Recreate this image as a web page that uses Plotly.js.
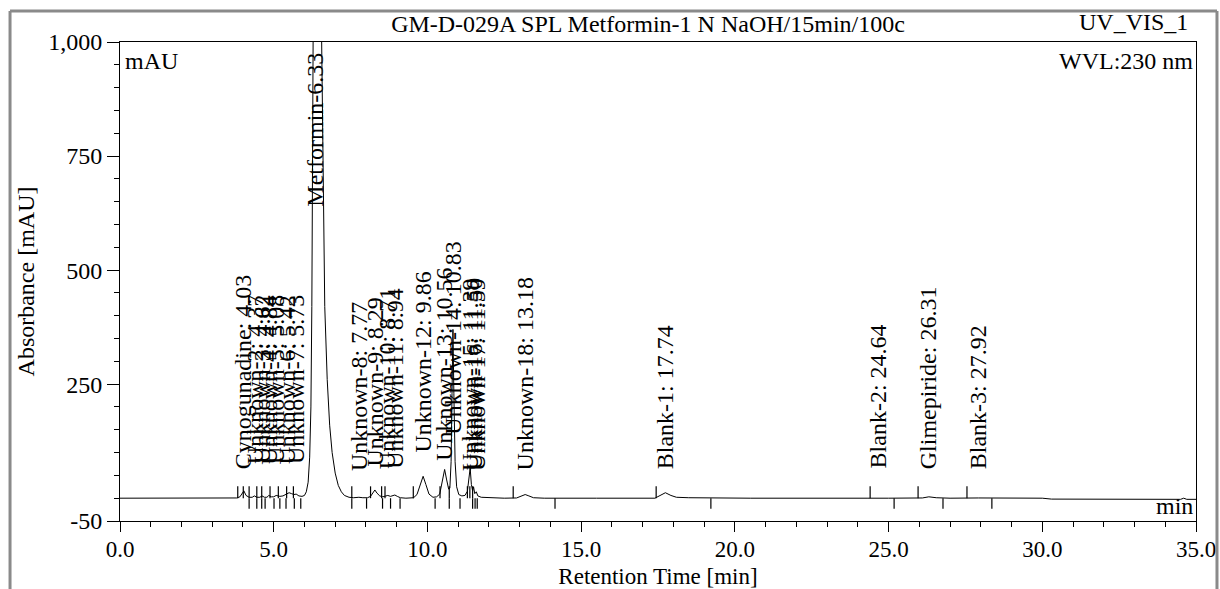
<!DOCTYPE html>
<html>
<head>
<meta charset="utf-8">
<script src="https://cdn.plot.ly/plotly-3.0.1.min.js"></script>
<style>
  html, body { margin: 0; padding: 0; background: #ffffff; }
  #chart { width: 1220px; height: 589px; }
</style>
</head>
<body>
<div id="chart"></div>
<script>
// ---- Chromatogram signal (retention time [min], absorbance [mAU]) ----
const times = [
  0, 2, 3.5, 3.8, 3.9, 3.97, 4.03, 4.1, 4.2, 4.3, 4.37, 4.45, 4.55, 4.62, 4.7, 4.78, 4.84, 4.92,
  5.0, 5.08, 5.2, 5.3, 5.42, 5.5, 5.58, 5.66, 5.73, 5.82, 5.92, 6.0, 6.06, 6.12, 6.17, 6.21,
  6.24, 6.26, 6.28, 6.31, 6.4, 6.5, 6.56, 6.6, 6.66, 6.74, 6.82, 6.9, 7.0, 7.1, 7.2, 7.3, 7.45,
  7.6, 7.77, 7.9, 8.05, 8.15, 8.22, 8.29, 8.36, 8.45, 8.55, 8.63, 8.71, 8.8, 8.88, 8.94, 9.02,
  9.12, 9.3, 9.55, 9.66, 9.76, 9.86, 9.95, 10.05, 10.18, 10.3, 10.4, 10.48, 10.56, 10.62, 10.69,
  10.73, 10.77, 10.8, 10.83, 10.86, 10.9, 10.95, 11.02, 11.12, 11.22, 11.3, 11.35, 11.39, 11.43,
  11.47, 11.5, 11.54, 11.59, 11.64, 11.75, 12.0, 12.5, 12.9, 13.05, 13.18, 13.3, 13.45, 13.8,
  14.5, 15.5, 17.4, 17.55, 17.74, 17.92, 18.1, 18.5, 19.2, 20.5, 24.3, 24.64, 25.0, 26.1, 26.31,
  26.55, 27.0, 27.92, 28.5, 30.0, 30.3, 32.0, 34.5, 34.6, 34.7, 35.0
];
const absorbance = [
  0, 0, 0, 0.5, 3, 11, 16, 6, 2, 2, 5, 2, 2, 5, 2, 2, 6, 3,
  3, 6, 4, 5, 10, 12, 10, 8, 9, 5, 4, 6, 14, 35, 90, 200,
  420, 700, 1000, 1400, 1700, 1450, 1000, 700, 420, 260, 160, 100, 55, 28, 14, 6, 2,
  1, 2, 1, 1, 4, 12, 18, 11, 5, 3, 4, 6, 4, 5, 7, 4,
  1, 0, 1, 8, 30, 48, 30, 9, 2, 3, 9, 38, 63, 42, 20,
  22, 80, 230, 370, 230, 80, 25, 8, 5, 6, 15, 45, 66, 30,
  16, 25, 10, 14, 5, 2, 1, 0, 0.5, 4, 8, 5, 1, 0,
  -0.5, 0, 0, 6, 12, 6, 2, 1, 0.5, 0, 0, 0.5, 0, 0.5, 3,
  1, 0, 0.5, 0, 0, -2, -2.5, -2.5, 0, -2.5, -2.5
];

// ---- Peak identification ----
const peakNames = [
  "Cynogunadine", "Unknown-2", "Unknown-3", "Unknown-4", "Unknown-5", "Unknown-6", "Unknown-7",
  "Metformin", "Unknown-8", "Unknown-9", "Unknown-10", "Unknown-11", "Unknown-12", "Unknown-13",
  "Unknown-14", "Unknown-15", "Unknown-16", "Unknown-17", "Unknown-18", "Blank-1", "Blank-2",
  "Glimepiride", "Blank-3"
];
const peakTimes = [
  4.03, 4.37, 4.62, 4.84, 5.08, 5.42, 5.73,
  6.33, 7.77, 8.29, 8.71, 8.94, 9.86, 10.56,
  10.83, 11.39, 11.50, 11.59, 13.18, 17.74, 24.64,
  26.31, 27.92
];
// peak delimiter times (start marks above baseline, end marks below)
const peakStarts = [3.83, 4.01, 4.2, 4.45, 4.61, 4.88, 5.15, 5.42, 5.64, 7.54, 8.15, 8.51, 8.62,
  9.54, 10.41, 10.71, 11.3, 11.38, 11.47, 12.79, 17.44, 24.4, 25.96, 27.55];
const peakEnds = [4.2, 4.45, 4.61, 4.72, 5.01, 5.2, 5.4, 5.67, 5.88, 7.54, 8.02, 8.54, 8.8, 9.11,
  10.25, 10.71, 11.06, 11.47, 11.55, 11.62, 14.15, 19.22, 25.18, 26.77, 28.36];

// ---- Axis ticks ----
const xTickVals = [0, 5, 10, 15, 20, 25, 30, 35];
const xTickText = ["0.0", "5.0", "10.0", "15.0", "20.0", "25.0", "30.0", "35.0"];
const yTickVals = [-50, 250, 500, 750, 1000];
const yTickText = ["-50", "250", "500", "750", "1,000"];

// ---- layout-only settings (label placement, mark lengths) ----
const labelBottom = [62, 72, 72, 72, 72, 72, 72, 636, 58, 68, 62, 62, 97, 80, 138, 58, 58, 58, 58, 62, 62, 62, 62];
const startMarkLen = 26, endMarkLen = -23;

const FONT = 'Liberation Serif, Times New Roman, Times, serif';

const markX = [], markY = [];
peakStarts.forEach(t => { markX.push(t, t, null); markY.push(0, startMarkLen, null); });
peakEnds.forEach(t => { markX.push(t, t, null); markY.push(0, endMarkLen, null); });

const xMinor = []; for (let v = 0; v <= 35; v += 1) xMinor.push(v);
const yMinor = []; for (let v = -50; v <= 1000; v += 50) yMinor.push(v);

const traces = [
  { type: 'scatter', mode: 'lines', x: times, y: absorbance,
    line: { color: '#000000', width: 1 }, hoverinfo: 'skip' },
  { type: 'scatter', mode: 'lines', x: markX, y: markY, connectgaps: false,
    line: { color: '#000000', width: 1.2 }, hoverinfo: 'skip' }
];

const annotations = peakNames.map((n, i) => ({
  xref: 'x', yref: 'y', x: peakTimes[i], y: labelBottom[i],
  text: n + (n === 'Metformin' ? '-' : ': ') + peakTimes[i].toFixed(2),
  textangle: -90, showarrow: false, xanchor: 'center', yanchor: 'bottom',
  font: { family: FONT, size: 24, color: '#000000' }, borderpad: 0
}));
annotations.push(
  { xref: 'paper', yref: 'paper', x: 0.9944, y: 1.0418, text: 'UV_VIS_1', showarrow: false,
    xanchor: 'right', yanchor: 'middle', font: { family: FONT, size: 24, color: '#000' } },
  { xref: 'paper', yref: 'paper', x: 0, xshift: 3, y: 0.960, text: 'mAU', showarrow: false,
    xanchor: 'left', yanchor: 'middle', font: { family: FONT, size: 24, color: '#000' } },
  { xref: 'paper', yref: 'paper', x: 1, xshift: -1, y: 0.960, text: 'WVL:230 nm', showarrow: false,
    xanchor: 'right', yanchor: 'middle', font: { family: FONT, size: 24, color: '#000' } },
  { xref: 'paper', yref: 'paper', x: 1, xshift: -1, y: 0.031, text: 'min', showarrow: false,
    xanchor: 'right', yanchor: 'middle', font: { family: FONT, size: 24, color: '#000' } }
);

const layout = {
  width: 1220, height: 589,
  margin: { l: 120, r: 24, t: 42, b: 68, pad: 0 },
  paper_bgcolor: '#ffffff', plot_bgcolor: '#ffffff',
  showlegend: false,
  font: { family: FONT, size: 24, color: '#000000' },
  title: { text: 'GM-D-029A SPL Metformin-1 N NaOH/15min/100c', xref: 'container', yref: 'container',
           x: 648 / 1220, y: 1 - 24 / 589, xanchor: 'center', yanchor: 'middle',
           font: { family: FONT, size: 24, color: '#000' } },
  xaxis: {
    range: [0, 35], tickmode: 'array', tickvals: xTickVals, ticktext: xTickText,
    ticks: 'outside', ticklen: 10, tickwidth: 1, tickcolor: '#000', ticklabelstandoff: -3,
    showline: true, linecolor: '#000', linewidth: 1, mirror: true,
    showgrid: false, zeroline: false, fixedrange: true,
    minor: { tickmode: 'array', tickvals: xMinor, ticks: 'outside', ticklen: 5, tickwidth: 1, tickcolor: '#000', showgrid: false },
    tickfont: { family: FONT, size: 23, color: '#000' },
    title: { text: 'Retention Time [min]', standoff: 8, font: { family: FONT, size: 23, color: '#000' } },
    automargin: false
  },
  yaxis: {
    range: [-50, 1000], tickmode: 'array', tickvals: yTickVals, ticktext: yTickText,
    ticks: 'outside', ticklen: 12, tickwidth: 1, tickcolor: '#000',
    showline: true, linecolor: '#000', linewidth: 1, mirror: true,
    showgrid: false, zeroline: false, fixedrange: true,
    minor: { tickmode: 'array', tickvals: yMinor, ticks: 'outside', ticklen: 5, tickwidth: 1, tickcolor: '#000', showgrid: false },
    tickfont: { family: FONT, size: 24, color: '#000' },
    title: { text: 'Absorbance [mAU]', standoff: 6, font: { family: FONT, size: 24, color: '#000' } },
    automargin: false
  },
  annotations: annotations,
  shapes: [
    { type: 'line', xref: 'paper', yref: 'paper', x0: -0.1022, x1: 1.0195, y0: 1.0647, y1: 1.0647,
      line: { color: '#8a8a8a', width: 3 } },
    { type: 'line', xref: 'paper', yref: 'paper', x0: -0.1022, x1: -0.1022, y0: 1.0647, y1: -0.2,
      line: { color: '#8a8a8a', width: 3 } },
    { type: 'line', xref: 'paper', yref: 'paper', x0: 1.0195, x1: 1.0195, y0: 1.0647, y1: -0.2,
      line: { color: '#8a8a8a', width: 3 } }
  ]
};

Plotly.newPlot('chart', traces, layout, { displayModeBar: false, staticPlot: true });
</script>
</body>
</html>
